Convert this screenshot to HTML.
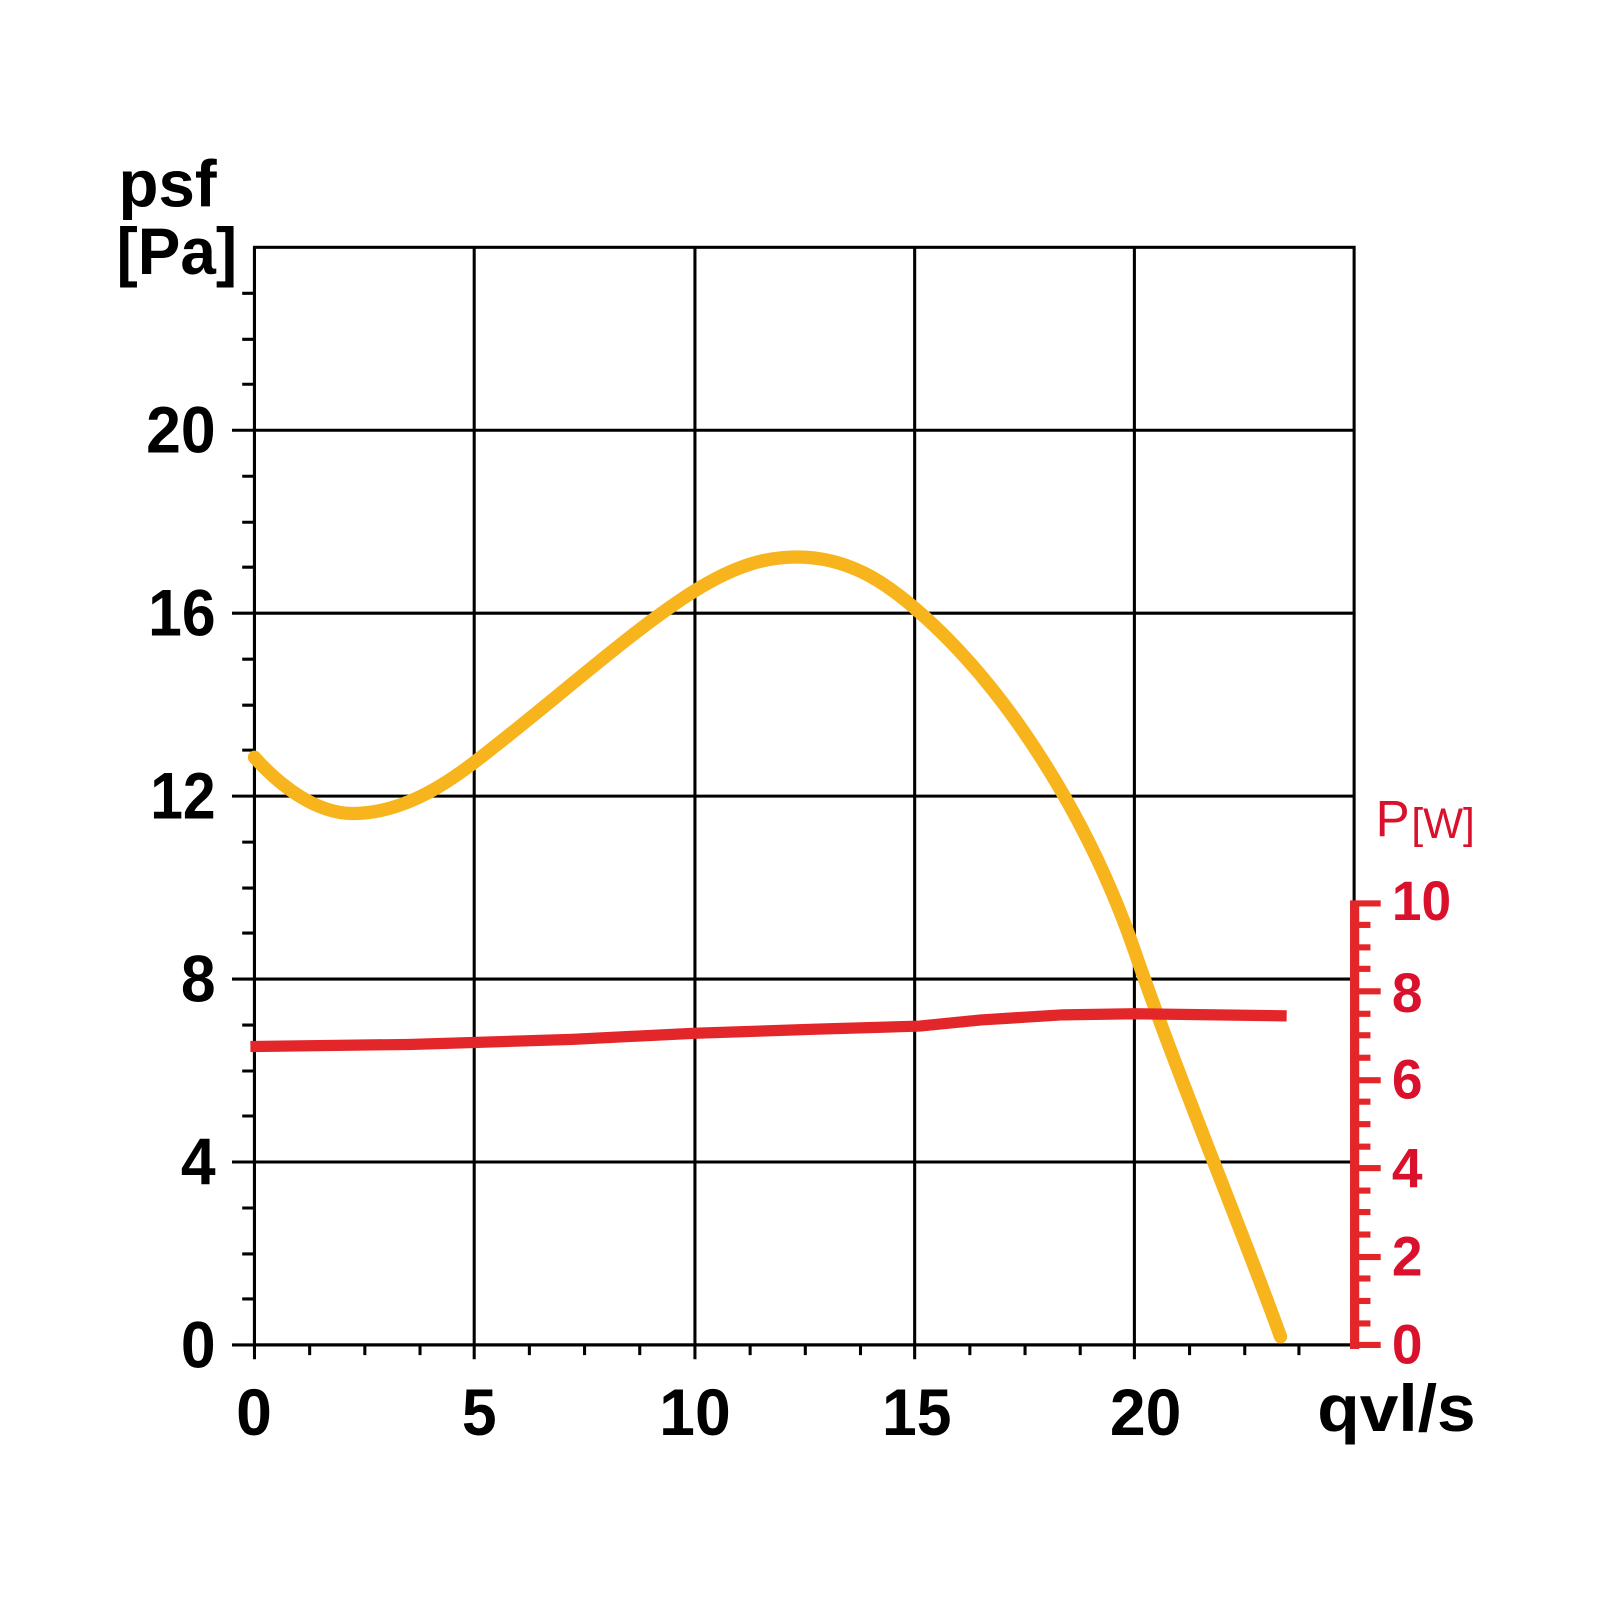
<!DOCTYPE html>
<html><head><meta charset="utf-8"><style>html,body{margin:0;padding:0;background:#fff}svg{display:block}</style></head>
<body>
<svg width="1600" height="1600" viewBox="0 0 1565.6 1565.6" xmlns="http://www.w3.org/2000/svg">
<rect width="1565.6" height="1565.6" fill="#fff"/>
<g stroke="#000" stroke-width="3" fill="none">
<rect x="249" y="242" width="1076" height="1074"/>
<path d="M227 421H1325M227 600H1325M227 779H1325M227 958H1325M227 1137H1325M227 1316H1325"/>
<path d="M249 242V1330M464 242V1330M680 242V1330M895 242V1330M1110 242V1330"/>
<path d="M237 287H249M237 332H249M237 376H249M237 466H249M237 511H249M237 555H249M237 645H249M237 690H249M237 734H249M237 824H249M237 869H249M237 913H249M237 1003H249M237 1048H249M237 1092H249M237 1182H249M237 1227H249M237 1271H249"/>
<path d="M303 1316V1326M357 1316V1326M411 1316V1326M518 1316V1326M572 1316V1326M626 1316V1326M734 1316V1326M788 1316V1326M842 1316V1326M949 1316V1326M1003 1316V1326M1057 1316V1326M1164 1316V1326M1218 1316V1326M1271 1316V1326"/>
</g>
<g font-family="Liberation Sans, sans-serif" font-weight="bold" font-size="64" fill="#000">
<text x="116" y="202" textLength="96" lengthAdjust="spacingAndGlyphs">psf</text>
<text x="114" y="268" textLength="118" lengthAdjust="spacingAndGlyphs">[Pa]</text>
<g text-anchor="end">
<text x="211" y="443" textLength="68" lengthAdjust="spacingAndGlyphs">20</text>
<text x="211" y="622" textLength="66" lengthAdjust="spacingAndGlyphs">16</text>
<text x="211" y="801" textLength="64" lengthAdjust="spacingAndGlyphs">12</text>
<text x="211" y="980" textLength="34" lengthAdjust="spacingAndGlyphs">8</text>
<text x="211" y="1159" textLength="34" lengthAdjust="spacingAndGlyphs">4</text>
<text x="211" y="1338" textLength="34" lengthAdjust="spacingAndGlyphs">0</text>
</g>
<text x="231" y="1404" textLength="35" lengthAdjust="spacingAndGlyphs">0</text>
<text x="452" y="1404" textLength="34" lengthAdjust="spacingAndGlyphs">5</text>
<text x="645" y="1404" textLength="70" lengthAdjust="spacingAndGlyphs">10</text>
<text x="863" y="1404" textLength="68" lengthAdjust="spacingAndGlyphs">15</text>
<text x="1086" y="1404" textLength="70" lengthAdjust="spacingAndGlyphs">20</text>
<text x="1289" y="1400" textLength="155" lengthAdjust="spacingAndGlyphs">qvl/s</text>
</g>
<path fill="none" stroke="#F7B41C" stroke-width="13" stroke-linecap="round"
d="M249,741 C275,770 310,796 345,796 C390,796 430,772 464,746 C540,688 620,615 680,578 C720,553 750,545 780,545 C830,545 866,570 895,595 C985,672 1065,800 1110,930 C1155,1060 1220,1215 1253,1308"/>
<polyline fill="none" stroke="#E3262A" stroke-width="11" stroke-linejoin="round"
points="245,1024 400,1022 560,1017 680,1011 800,1007 900,1004 960,998 1040,993 1110,992 1259,994"/>
<g fill="#E3262A">
<rect x="1321" y="883" width="9" height="437"/>
<rect x="1321" y="881" width="30" height="6"/>
<rect x="1321" y="1313" width="30" height="6"/>
<rect x="1321" y="967" width="30" height="6"/>
<rect x="1321" y="1054" width="30" height="6"/>
<rect x="1321" y="1140" width="30" height="6"/>
<rect x="1321" y="1227" width="30" height="6"/>
<rect x="1321" y="902" width="20" height="6"/><rect x="1321" y="924" width="20" height="6"/><rect x="1321" y="945" width="20" height="6"/>
<rect x="1321" y="989" width="20" height="6"/><rect x="1321" y="1010" width="20" height="6"/><rect x="1321" y="1032" width="20" height="6"/>
<rect x="1321" y="1075" width="20" height="6"/><rect x="1321" y="1097" width="20" height="6"/><rect x="1321" y="1119" width="20" height="6"/>
<rect x="1321" y="1162" width="20" height="6"/><rect x="1321" y="1183" width="20" height="6"/><rect x="1321" y="1205" width="20" height="6"/>
<rect x="1321" y="1248" width="20" height="6"/><rect x="1321" y="1270" width="20" height="6"/><rect x="1321" y="1292" width="20" height="6"/>
</g>
<g font-family="Liberation Sans, sans-serif" fill="#D9112C">
<g font-weight="bold" font-size="54">
<text x="1362" y="900" textLength="58" lengthAdjust="spacingAndGlyphs">10</text>
<text x="1362" y="990" textLength="30" lengthAdjust="spacingAndGlyphs">8</text>
<text x="1362" y="1075" textLength="30" lengthAdjust="spacingAndGlyphs">6</text>
<text x="1362" y="1162" textLength="30" lengthAdjust="spacingAndGlyphs">4</text>
<text x="1362" y="1248" textLength="30" lengthAdjust="spacingAndGlyphs">2</text>
<text x="1362" y="1334" textLength="30" lengthAdjust="spacingAndGlyphs">0</text>
</g>
<text x="1346" y="818" font-size="50">P</text>
<text x="1381" y="820" font-size="42" textLength="62" lengthAdjust="spacingAndGlyphs">[W]</text>
</g>
</svg>
</body></html>
